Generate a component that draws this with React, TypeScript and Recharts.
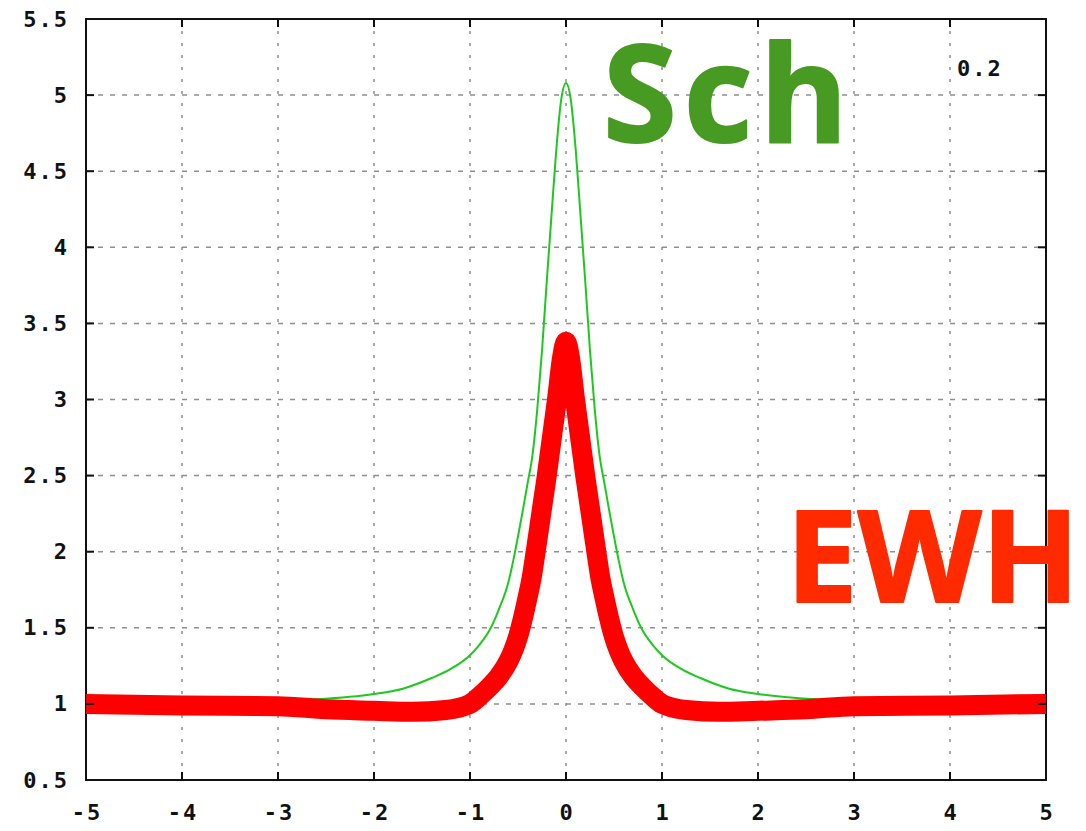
import { CartesianGrid, Line, LineChart, ReferenceArea, XAxis, YAxis } from 'recharts';

// Sch curve (thin green)
const schX = [-5, -4, -3, -2.6, -2, -1.7, -1.4, -1.2, -1, -0.9, -0.8, -0.7, -0.6, -0.55, -0.5, -0.45, -0.4, -0.35, -0.3, -0.25, -0.2, -0.15, -0.1, -0.05, 0,
    0.05, 0.1, 0.15, 0.2, 0.25, 0.3, 0.35, 0.4, 0.45, 0.5, 0.55, 0.6, 0.7, 0.8, 0.9, 1, 1.2, 1.4, 1.7, 2, 2.6, 3, 4, 5];
const schY = [1.005, 1.01, 1.02, 1.03, 1.065, 1.1, 1.17, 1.23, 1.32, 1.39, 1.48, 1.62, 1.8, 1.94, 2.1, 2.27, 2.45, 2.63, 2.93, 3.32, 3.78, 4.22, 4.65, 4.97, 5.08,
    4.97, 4.65, 4.22, 3.78, 3.32, 2.93, 2.63, 2.45, 2.27, 2.1, 1.94, 1.8, 1.62, 1.48, 1.39, 1.32, 1.23, 1.17, 1.1, 1.065, 1.03, 1.02, 1.01, 1.005];

// EWH curve (thick red)
const ewhX = [-5, -4, -3, -2.5, -2, -1.6, -1.25, -1, -0.9, -0.8, -0.7, -0.6, -0.55, -0.5, -0.45, -0.4, -0.36, -0.316, -0.2, -0.094, -0.04, 0,
    0.04, 0.094, 0.2, 0.316, 0.36, 0.4, 0.45, 0.5, 0.55, 0.6, 0.7, 0.8, 0.9, 1, 1.25, 1.6, 2, 2.5, 3, 4, 5];
const ewhY = [1.0, 0.99, 0.985, 0.965, 0.955, 0.948, 0.96, 1.0, 1.05, 1.11, 1.18, 1.28, 1.35, 1.44, 1.56, 1.7, 1.82, 2.0, 2.5, 3.0, 3.28, 3.38,
    3.28, 3.0, 2.5, 2.0, 1.82, 1.7, 1.56, 1.44, 1.35, 1.28, 1.18, 1.11, 1.05, 1.0, 0.96, 0.948, 0.955, 0.965, 0.985, 0.99, 1.0];

const xTicks = [-5, -4, -3, -2, -1, 0, 1, 2, 3, 4, 5];
const yTicks = [0.5, 1, 1.5, 2, 2.5, 3, 3.5, 4, 4.5, 5, 5.5];

const schData = schX.map((x, i) => ({ x, y: schY[i] }));
const ewhData = ewhX.map((x, i) => ({ x, y: ewhY[i] }));

const PLOT_LEFT = 86;
const PLOT_RIGHT = 1046;
const PLOT_TOP = 19;
const PLOT_BOTTOM = 780;

const tickFont = {
    fontFamily: "'DejaVu Sans Mono', monospace",
    fontWeight: 700,
    fontSize: 22,
    letterSpacing: 2,
    fill: '#111',
};

function YTick(props: any) {
    const { y, payload } = props;
    const edge = payload.value === 0.5 || payload.value === 5.5;
    return (
        <g>
            {!edge && <line x1={PLOT_LEFT} x2={PLOT_LEFT + 8} y1={y} y2={y} stroke="#111" strokeWidth={2} />}
            {!edge && <line x1={PLOT_RIGHT - 8} x2={PLOT_RIGHT} y1={y} y2={y} stroke="#111" strokeWidth={2} />}
            <text x={69} y={y} textAnchor="end" dominantBaseline="central" {...tickFont}>
                {String(payload.value)}
            </text>
        </g>
    );
}

function XTick(props: any) {
    const { x, payload } = props;
    const edge = payload.value === -5 || payload.value === 5;
    return (
        <g>
            {!edge && <line x1={x} x2={x} y1={PLOT_BOTTOM} y2={PLOT_BOTTOM - 8} stroke="#111" strokeWidth={2} />}
            {!edge && <line x1={x} x2={x} y1={PLOT_TOP} y2={PLOT_TOP + 8} stroke="#111" strokeWidth={2} />}
            <text x={x + 1} y={812} textAnchor="middle" dominantBaseline="central" {...tickFont}>
                {payload.value < 0 ? '-' + Math.abs(payload.value) : String(payload.value)}
            </text>
        </g>
    );
}

export default function App() {
    return (
        <div style={{ position: 'absolute', top: 0, left: 0, width: 1086, height: 831, background: '#fff', overflow: 'hidden' }}>
            <LineChart
                width={1086}
                height={831}
                margin={{ top: PLOT_TOP, right: 1086 - PLOT_RIGHT, left: 0, bottom: 0 }}
            >
                <CartesianGrid horizontal vertical={false} stroke="#8f8f8f" strokeWidth={1.5} strokeDasharray="5 7" />
                <CartesianGrid horizontal={false} vertical stroke="#8f8f8f" strokeWidth={1.5} strokeDasharray="3 9" />
                <XAxis
                    type="number"
                    dataKey="x"
                    domain={[-5, 5]}
                    ticks={xTicks}
                    allowDataOverflow
                    height={831 - PLOT_BOTTOM}
                    axisLine={false}
                    tickLine={false}
                    tick={(p: any) => <XTick {...p} />}
                />
                <YAxis
                    type="number"
                    domain={[0.5, 5.5]}
                    ticks={yTicks}
                    allowDataOverflow
                    width={PLOT_LEFT}
                    axisLine={false}
                    tickLine={false}
                    tick={(p: any) => <YTick {...p} />}
                />
                <Line data={schData} dataKey="y" type="monotone" stroke="#1fc81f" strokeWidth={2} dot={false} isAnimationActive={false} />
                <Line data={ewhData} dataKey="y" type="monotone" stroke="#ff0000" strokeWidth={20} strokeLinejoin="round" dot={false} isAnimationActive={false} />
                <ReferenceArea x1={-5} x2={5} y1={0.5} y2={5.5} fill="none" fillOpacity={0} stroke="#111" strokeWidth={2} />
            </LineChart>
            <svg width={1086} height={831} style={{ position: 'absolute', top: 0, left: 0, pointerEvents: 'none' }}>
                <text x={957} y={68} dominantBaseline="central" {...tickFont}>0.2</text>
                <text x={603} y={142} fontFamily="'Open Sans', sans-serif" fontWeight={700} fontSize={134} letterSpacing={7}
                    fill="#479a22" stroke="#479a22" strokeWidth={2} strokeLinejoin="round">Sch</text>
                <text x={786} y={602} fontFamily="'Open Sans', sans-serif" fontWeight={700} fontSize={128}
                    fill="#ff2a00" stroke="#ff2a00" strokeWidth={2} strokeLinejoin="round">EWH</text>
            </svg>
        </div>
    );
}
